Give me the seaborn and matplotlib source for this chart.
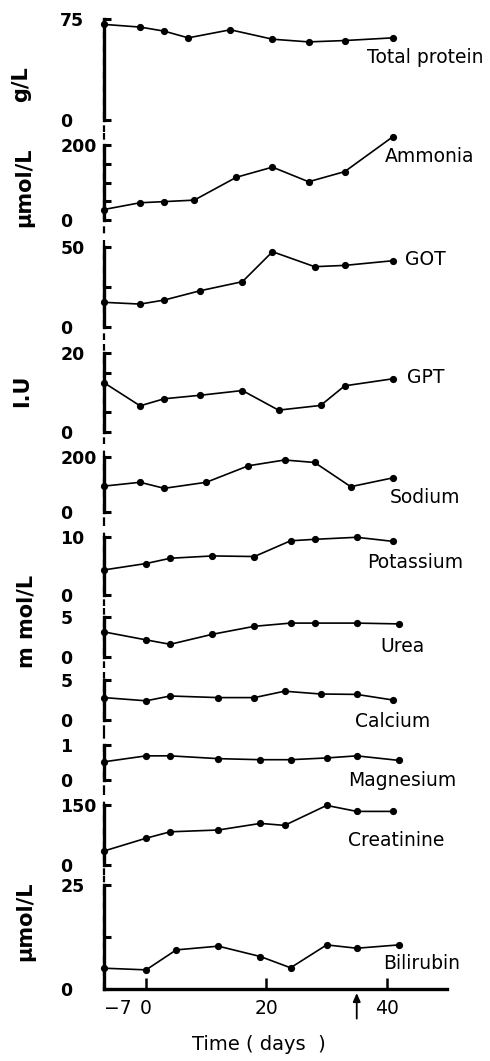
import numpy as np
import pandas as pd
import matplotlib
matplotlib.use("Agg")
import matplotlib.pyplot as plt
import seaborn as sns

sns.set_style("ticks")
plt.rcParams['font.family'] = ['DejaVu Sans']
for key in ["text.color", "axes.edgecolor", "axes.labelcolor",
            "xtick.color", "ytick.color"]:
    plt.rcParams[key] = "black"

# values (days, value)
protein_days = [-7, -1, 3, 7, 14, 21, 27, 33, 41]
protein = [71, 69, 66, 61, 67, 60, 58, 59, 61]
ammonia_days = [-7, -1, 3, 8, 15, 21, 27, 33, 41]
ammonia = [28, 46, 49, 53, 114, 141, 102, 129, 222]
got_days = [-7, -1, 3, 9, 16, 21, 28, 33, 41]
got = [15.5, 14.4, 16.9, 22.7, 28.3, 46.9, 37.6, 38.4, 41.3]
gpt_days = [-7, -1, 3, 9, 16, 22, 29, 33, 41]
gpt = [12.5, 6.6, 8.4, 9.3, 10.5, 5.5, 6.7, 11.7, 13.5]
sodium_days = [-7, -1, 3, 10, 17, 23, 28, 34, 41]
sodium = [93, 107, 85, 107, 167, 188, 179, 91, 123]
potassium_days = [-7, 0, 4, 11, 18, 24, 28, 35, 41]
potassium = [4.3, 5.4, 6.3, 6.7, 6.6, 9.3, 9.55, 9.9, 9.2]
urea_days = [-7, 0, 4, 11, 18, 24, 28, 35, 42]
urea = [3.1, 2.1, 1.55, 2.8, 3.8, 4.2, 4.2, 4.2, 4.1]
calcium_days = [-7, 0, 4, 12, 18, 23, 29, 35, 41]
calcium = [2.8, 2.4, 3.0, 2.8, 2.8, 3.6, 3.25, 3.2, 2.5]
magnesium_days = [-7, 0, 4, 12, 19, 24, 30, 35, 42]
magnesium = [0.52, 0.69, 0.69, 0.61, 0.58, 0.58, 0.63, 0.69, 0.56]
creatinine_days = [-7, 0, 4, 12, 19, 23, 30, 35, 41]
creatinine = [35, 67, 83, 87.5, 104, 99, 149, 134, 134]
bilirubin_days = [-7, 0, 5, 12, 19, 24, 30, 35, 42]
bilirubin = [5.0, 4.6, 9.4, 10.3, 7.8, 5.1, 10.6, 9.8, 10.6]

names = ["Total protein", "Ammonia", "GOT", "GPT", "Sodium", "Potassium",
         "Urea", "Calcium", "Magnesium", "Creatinine", "Bilirubin"]
all_days = [protein_days, ammonia_days, got_days, gpt_days, sodium_days,
            potassium_days, urea_days, calcium_days, magnesium_days,
            creatinine_days, bilirubin_days]
all_vals = [protein, ammonia, got, gpt, sodium, potassium, urea, calcium,
            magnesium, creatinine, bilirubin]
top_vals = [75, 200, 50, 20, 200, 10, 5, 5, 1, 150, 25]
mid_ticks = [[], [50, 100, 150], [25], [5, 15], [], [], [], [], [], [], [12.5]]
x_ticks = [-7, 0, 20, 40]
x_ticklabels = ["\u22127", "0", "20", "40"]
arrow_day = 35

df = pd.concat([pd.DataFrame({"day": d, "value": v, "test": n})
                for d, v, n in zip(all_days, all_vals, names)])

# layout in pixels (figure is 490 x 1061)
W, H = 490, 1061
bracket_top = [19, 145, 246.7, 353.3, 456.7, 536.7, 616.7, 680, 745, 805, 885]
bracket_bot = [120, 220, 327.3, 431.7, 511.7, 595, 656.7, 720, 780, 865, 989]
bounds = [19, 132, 233, 340, 444, 524, 606, 668, 732, 792, 875, 989]
ax_left, ax_width = 104, 343

# (left x, baseline y) of the series names
name_pos = [(367, 63), (385, 162), (405, 265), (407, 383), (390, 503),
            (367, 568), (380, 652), (355, 727), (348, 786), (348, 846),
            (383, 969)]
unit_labels = [("g/L", 21, 84), ("\u03bcmol/L", 24, 187), ("I.U", 22, 391),
               ("m mol/L", 26, 621), ("\u03bcmol/L", 25, 921)]

fig = plt.figure(figsize=(W / 100, H / 100), dpi=100)

for i, name in enumerate(names):
    y0, y1 = bounds[i], bounds[i + 1]
    ax = fig.add_axes([ax_left / W, 1 - y1 / H, ax_width / W, (y1 - y0) / H])
    ppu = (bracket_bot[i] - bracket_top[i]) / top_vals[i]
    ax.set_ylim(-(y1 - bracket_bot[i]) / ppu,
                top_vals[i] + (bracket_top[i] - y0) / ppu)
    ax.set_xlim(-7, 50)
    ax.patch.set_alpha(0)

    sub = df[df["test"] == name]
    sns.lineplot(data=sub, x="day", y="value", ax=ax, color="black",
                 marker="o", markersize=5.2, markeredgewidth=0, linewidth=1.2,
                 sort=False, estimator=None, clip_on=False)

    ax.axvline(-7, color="black", linewidth=1.6, linestyle=(0, (3, 3)),
               clip_on=False, zorder=1)

    for s in ["top", "right"]:
        ax.spines[s].set_visible(False)
    ax.spines["left"].set_linewidth(2.4)
    ax.spines["left"].set_bounds(0, top_vals[i])
    ax.spines["left"].set_zorder(3)

    ax.set_yticks([0, top_vals[i]])
    ax.set_yticklabels(["0", str(top_vals[i])], fontweight="bold", fontsize=12.5)
    ax.set_yticks(mid_ticks[i], minor=True)
    ax.tick_params(axis="y", which="both", direction="in", length=5, width=2.2,
                   pad=31.5, left=True)
    for lab in ax.get_yticklabels():
        lab.set_horizontalalignment("left")
    ax.set(xlabel=None, ylabel=None)

    if i < len(names) - 1:
        ax.spines["bottom"].set_visible(False)
        ax.tick_params(axis="x", bottom=False, labelbottom=False)
    else:
        ax.spines["bottom"].set_linewidth(2.4)
        ax.set_xticks(x_ticks)
        ax.set_xticklabels(x_ticklabels, fontsize=13.5)
        ax.get_xticklabels()[0].set_horizontalalignment("left")
        ax.tick_params(axis="x", direction="in", length=8, width=1.8, pad=7)
        ax.annotate("", xy=(arrow_day, -0.035), xytext=(arrow_day, -0.26),
                    xycoords=ax.get_xaxis_transform(),
                    arrowprops=dict(arrowstyle="-|>,head_length=0.5,head_width=0.22",
                                    color="black", lw=1.3, shrinkA=0, shrinkB=0),
                    annotation_clip=False)

    nx, ny = name_pos[i]
    fig.text(nx / W, 1 - ny / H, name, fontsize=13.5, ha="left", va="baseline")

for txt, ux, uy in unit_labels:
    fig.text(ux / W, 1 - uy / H, txt, fontsize=15, fontweight="bold",
             rotation=90, ha="center", va="center")

fig.text(259 / W, 1 - 1045 / H, "Time ( days  )", fontsize=14,
         ha="center", va="center")

fig.savefig("out.png", dpi=100)
plt.close()
